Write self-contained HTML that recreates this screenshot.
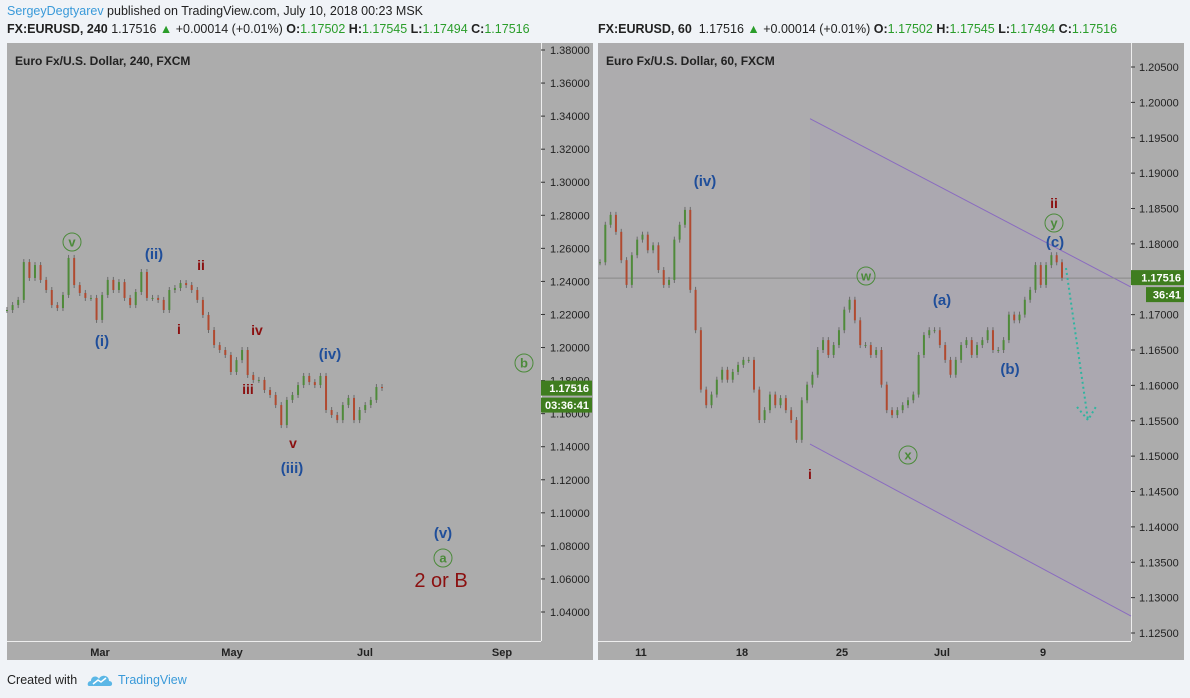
<!DOCTYPE html>
<html><head><meta charset="utf-8"><style>
body{margin:0;width:1190px;height:698px;background:#f0f3f7;font-family:"Liberation Sans",sans-serif;overflow:hidden;position:relative}
.t{position:absolute;white-space:nowrap}
</style></head><body>
<div class="t" style="left:7px;top:4px;font-size:12.5px;color:#222"><span style="color:#3a9ad9">SergeyDegtyarev</span> published on TradingView.com, July 10, 2018 00:23 MSK</div>
<div class="t" style="left:7px;top:22px;font-size:12.5px;color:#222"><b>FX:EURUSD, 240</b> 1.17516 <span style="color:#2a9d2a">▲</span> +0.00014 (+0.01%) <b>O:</b><span style="color:#2a9d2a">1.17502</span> <b>H:</b><span style="color:#2a9d2a">1.17545</span> <b>L:</b><span style="color:#2a9d2a">1.17494</span> <b>C:</b><span style="color:#2a9d2a">1.17516</span></div>
<div class="t" style="left:598px;top:22px;font-size:12.5px;color:#222"><b>FX:EURUSD, 60</b> &nbsp;1.17516 <span style="color:#2a9d2a">▲</span> +0.00014 (+0.01%) <b>O:</b><span style="color:#2a9d2a">1.17502</span> <b>H:</b><span style="color:#2a9d2a">1.17545</span> <b>L:</b><span style="color:#2a9d2a">1.17494</span> <b>C:</b><span style="color:#2a9d2a">1.17516</span></div>
<svg id="c" width="1190" height="698" style="position:absolute;left:0;top:0" font-family="Liberation Sans, sans-serif"></svg>
<div class="t" style="left:7px;top:673px;font-size:12.5px;color:#222">Created with</div>
<svg style="position:absolute;left:87px;top:672px" width="26" height="16"><path d="M2 14 C0 14 0 9 4 9 C4 4 10 3 12 7 C14 2 22 3 22 9 C26 9 26 14 23 14 Z" fill="#5bb7e6"/><path d="M6 12 L11 8 L14 10 L19 6" stroke="#fff" stroke-width="1.5" fill="none"/></svg>
<div class="t" style="left:118px;top:673px;font-size:12.5px;color:#3a9ad9">TradingView</div>
<script>
const leftCloses=[1.2227,1.2257,1.2288,1.2517,1.2421,1.2499,1.2409,1.2348,1.2257,1.2239,1.2318,1.2542,1.2378,1.2330,1.2300,1.2300,1.2167,1.2318,1.2409,1.2348,1.2396,1.2300,1.2257,1.2336,1.2457,1.2300,1.2300,1.2288,1.2227,1.2348,1.2360,1.2390,1.2378,1.2348,1.2288,1.2197,1.2106,1.2015,1.1985,1.1955,1.1852,1.1924,1.1985,1.1834,1.1804,1.1804,1.1743,1.1713,1.1652,1.1531,1.1683,1.1713,1.1773,1.1828,1.1791,1.1773,1.1828,1.1622,1.1592,1.1561,1.1652,1.1695,1.1561,1.1622,1.1652,1.1683,1.1761,1.1755];
const rightCloses=[1.1774,1.1827,1.1841,1.1817,1.1777,1.1742,1.1784,1.1806,1.1813,1.1791,1.1798,1.1763,1.1742,1.1749,1.1806,1.1827,1.1848,1.1735,1.1678,1.1594,1.1572,1.1587,1.1608,1.1622,1.1608,1.1619,1.1629,1.1636,1.1636,1.1594,1.1551,1.1565,1.1587,1.1572,1.1582,1.1565,1.1551,1.1523,1.1579,1.1601,1.1615,1.1650,1.1664,1.1643,1.1657,1.1678,1.1707,1.1721,1.1692,1.1657,1.1657,1.1643,1.1650,1.1601,1.1565,1.1558,1.1565,1.1572,1.1579,1.1587,1.1643,1.1671,1.1678,1.1678,1.1657,1.1636,1.1615,1.1636,1.1657,1.1664,1.1643,1.1657,1.1664,1.1678,1.1650,1.1650,1.1664,1.1700,1.1692,1.1700,1.1721,1.1735,1.1770,1.1742,1.1770,1.1784,1.1774,1.1752];
const leftTicks=["1.38000","1.36000","1.34000","1.32000","1.30000","1.28000","1.26000","1.24000","1.22000","1.20000","1.18000","1.16000","1.14000","1.12000","1.10000","1.08000","1.06000","1.04000"];
const rightTicks=["1.20500","1.20000","1.19500","1.19000","1.18500","1.18000","1.17500","1.17000","1.16500","1.16000","1.15500","1.15000","1.14500","1.14000","1.13500","1.13000","1.12500"];
const leftDates=["Mar","May","Jul","Sep"];
const rightDates=["11","18","25","Jul","9"];
const lastPrice=1.17516;
const channelUpper=[1.1977,1.1739];
const channelLower=[1.1517,1.1274];

const svg=document.getElementById('c');
const NS='http://www.w3.org/2000/svg';
function mk(tag,at,parent){const e=document.createElementNS(NS,tag);for(const k in at)e.setAttribute(k,at[k]);(parent||svg).appendChild(e);return e;}
const yL=p=>50+(1.38-p)/0.34*562;
const yR=p=>67+(1.205-p)/0.08*566;
const xL=i=>7+i*(382-7)/(leftCloses.length-1);
const xR=i=>600+i*(1062-600)/(rightCloses.length-1);
const xLd=[100,232,365,502], xRd=[641,742,842,942,1043];

let e;
e=mk('rect',{x:7,y:43,width:534,height:598,fill:'#acacac'});

e=mk('rect',{x:541,y:43,width:52,height:617,fill:'#acacac'});

e=mk('rect',{x:7,y:641,width:534,height:19,fill:'#acacac'});

e=mk('rect',{x:598,y:43,width:533,height:598,fill:'#adacae'});

e=mk('rect',{x:1131,y:43,width:53,height:617,fill:'#acacac'});

e=mk('rect',{x:598,y:641,width:533,height:19,fill:'#acacac'});

mk('line',{x1:541.5,y1:43,x2:541.5,y2:641,stroke:'#eee'});
mk('line',{x1:7,y1:641.5,x2:541,y2:641.5,stroke:'#eee'});
mk('line',{x1:1131.5,y1:43,x2:1131.5,y2:641,stroke:'#eee'});
mk('line',{x1:598,y1:641.5,x2:1131,y2:641.5,stroke:'#eee'});

e=mk('text',{x:15,y:65,'font-size':12,'font-weight':'bold',fill:'#222'});e.textContent='Euro Fx/U.S. Dollar, 240, FXCM';

e=mk('text',{x:606,y:65,'font-size':12,'font-weight':'bold',fill:'#222'});e.textContent='Euro Fx/U.S. Dollar, 60, FXCM';


leftTicks.forEach(t=>{const y=yL(parseFloat(t));
 mk('line',{x1:541,y1:y,x2:545,y2:y,stroke:'#333'});
 e=mk('text',{x:550,y:y+4,'font-size':11,fill:'#222'});e.textContent=t;
 });
rightTicks.forEach(t=>{const y=yR(parseFloat(t));
 mk('line',{x1:1131,y1:y,x2:1135,y2:y,stroke:'#333'});
 e=mk('text',{x:1139,y:y+4,'font-size':11,fill:'#222'});e.textContent=t;
 });
leftDates.forEach((d,i)=>{e=mk('text',{x:xLd[i],y:656,'font-size':11,'font-weight':'bold','text-anchor':'middle',fill:'#222'});e.textContent=d;
 });
rightDates.forEach((d,i)=>{e=mk('text',{x:xRd[i],y:656,'font-size':11,'font-weight':'bold','text-anchor':'middle',fill:'#222'});e.textContent=d;
 });

const cx1=810,cx2=1131;
e=mk('polygon',{points:`${cx1},${yR(channelUpper[0])} ${cx2},${yR(channelUpper[1])} ${cx2},${yR(channelLower[1])} ${cx1},${yR(channelLower[0])}`,fill:'rgba(160,140,200,0.10)'});

e=mk('line',{x1:cx1,y1:yR(channelUpper[0]),x2:cx2,y2:yR(channelUpper[1]),stroke:'#8a6bc0','stroke-width':1});

e=mk('line',{x1:cx1,y1:yR(channelLower[0]),x2:cx2,y2:yR(channelLower[1]),stroke:'#8a6bc0','stroke-width':1});

e=mk('line',{x1:598,y1:yR(lastPrice),x2:1131,y2:yR(lastPrice),stroke:'#888','stroke-width':1});


function candles(arr,xf,yf,w,name){
 arr.forEach((c,i)=>{const o=i?arr[i-1]:c;const up=c>=o;
  const hi=Math.max(o,c),lo=Math.min(o,c);
  const g=mk('g',{});
  
  
  const x=xf(i);
  mk('line',{x1:x,y1:yf(hi)-3,x2:x,y2:yf(lo)+3,stroke:'#6b6b6b','stroke-width':1},g);
  mk('rect',{x:x-w/2,y:yf(hi),width:w,height:Math.max(1,yf(lo)-yf(hi)),fill:up?'#4f8a3a':'#b04a30'},g);
 });
}
candles(leftCloses,xL,yL,2,'left-candle');
candles(rightCloses,xR,yR,2,'right-candle');

e=mk('path',{d:'M1066 268 L1088 420 M1077 407 L1088 420 L1097 405',stroke:'#2fb5a0','stroke-width':2,'stroke-dasharray':'2 3',fill:'none'});


const labs=[
 [72,242,'v','#4b8a3a',1,13],[102,346,'(i)','#1f4e9a',0,15],[154,259,'(ii)','#1f4e9a',0,15],[201,270,'ii','#8b1010',0,14],
 [179,334,'i','#8b1010',0,14],[257,335,'iv','#8b1010',0,14],[248,394,'iii','#8b1010',0,14],[293,448,'v','#8b1010',0,14],
 [292,473,'(iii)','#1f4e9a',0,15],[330,359,'(iv)','#1f4e9a',0,15],[524,363,'b','#4b8a3a',1,13],[443,538,'(v)','#1f4e9a',0,15],
 [443,558,'a','#4b8a3a',1,13],
 [705,186,'(iv)','#1f4e9a',0,15],[1054,208,'ii','#8b1010',0,14],[1054,223,'y','#4b8a3a',1,13],[1055,247,'(c)','#1f4e9a',0,15],
 [866,276,'w','#4b8a3a',1,13],[942,305,'(a)','#1f4e9a',0,15],[1010,374,'(b)','#1f4e9a',0,15],[908,455,'x','#4b8a3a',1,13],[810,479,'i','#8b1010',0,14]];
labs.forEach(l=>{
 if(l[4]){e=mk('circle',{cx:l[0],cy:l[1],r:9,fill:'none',stroke:'#4b8a3a','stroke-width':1});
  
  e=mk('text',{x:l[0],y:l[1]+4.5,'font-size':l[5],'font-weight':'bold','text-anchor':'middle',fill:l[3]});}
 else e=mk('text',{x:l[0],y:l[1],'font-size':l[5],'font-weight':'bold','text-anchor':'middle',fill:l[3]});
 e.textContent=l[2];
 
});
e=mk('text',{x:441,y:587,'font-size':20,'text-anchor':'middle',fill:'#8b1010'});e.textContent='2 or B';


function box(x,y,w,h,t,name){const g=mk('g',{});
 mk('rect',{x:x,y:y,width:w,height:h,fill:'#3f7d1f'},g);
 const tx=mk('text',{x:x+w-3,y:y+h-3.5,'font-size':11,'font-weight':'bold','text-anchor':'end',fill:'#fff'},g);tx.textContent=t;}
const ly=yL(lastPrice), ry=yR(lastPrice);
box(541,ly-8,51,15,'1.17516','left-last-price-label');
box(541,ly+9,51,15,'03:36:41','left-countdown-label');
box(1131,ry-8,53,15,'1.17516','right-last-price-label');
box(1146,ry+9,38,15,'36:41','right-countdown-label');
</script>
</body></html>
